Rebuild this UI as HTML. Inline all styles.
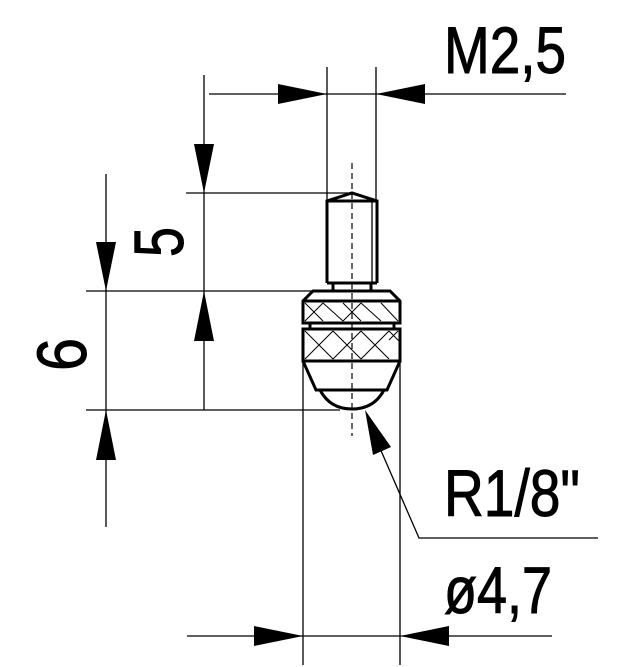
<!DOCTYPE html>
<html><head><style>html,body{margin:0;padding:0;background:#fff;}svg{display:block}</style></head>
<body>
<svg width="638" height="667" viewBox="0 0 638 667" xmlns="http://www.w3.org/2000/svg">
<g stroke="#000" stroke-width="1.3" fill="none">
<line x1="327" y1="67" x2="327" y2="200"/>
<line x1="376" y1="67" x2="376" y2="200"/>
<line x1="209" y1="94" x2="566" y2="94"/>
<line x1="204" y1="75" x2="204" y2="410"/>
<line x1="106" y1="174" x2="106" y2="527"/>
<line x1="186" y1="193" x2="352" y2="193"/>
<line x1="86" y1="291" x2="312" y2="291"/>
<line x1="86" y1="410" x2="340" y2="410"/>
<line x1="303" y1="330" x2="303" y2="665"/>
<line x1="400" y1="330" x2="400" y2="665"/>
<line x1="187" y1="636" x2="552" y2="636"/>
<polyline points="372,430 419,538 598,538"/>
</g>
<line x1="352" y1="163" x2="352" y2="436" stroke="#000" stroke-width="1.2" stroke-dasharray="6,4"/>
<g stroke="#000" stroke-width="3" fill="none" stroke-linejoin="miter">
<polyline points="327,283 327,201 352,193 377,201 377,283"/>
<line x1="327" y1="201" x2="377" y2="201"/>
<line x1="327" y1="283" x2="377" y2="283"/>
<line x1="333" y1="283" x2="333" y2="291"/>
<line x1="371" y1="283" x2="371" y2="291"/>
<polygon points="313,291 390,291 400,301 400,323 303,323 303,301"/>
<line x1="303" y1="301" x2="400" y2="301"/>
<line x1="310" y1="323" x2="310" y2="329"/>
<line x1="394" y1="323" x2="394" y2="329"/>
<rect x="303" y="329" width="97" height="32"/>
<polyline points="303,361 316,390 387,390 400,361"/>
<path d="M320,390 Q330,409 352,409 Q374,409 384,390"/>
</g>
<line x1="372" y1="201" x2="372" y2="283" stroke="#000" stroke-width="1.3"/>
<g stroke="#000" stroke-width="1">
<path d="M305,303 L323,321 M323,303 L305,321 M323,303 L343,321 M343,303 L361,321 M361,303 L343,321 M361,303 L381,321 M381,303 L398,321"/>
<path d="M305,331 L333,359 M333,331 L305,359 M333,331 L361,359 M361,331 L333,359 M361,331 L389,359 M389,331 L361,359 M389,331 L400,342 M398,331 L389,340"/>
</g>
<g fill="#000">
<polygon points="327,94 278,84 278,104"/>
<polygon points="376,94 425,84 425,104"/>
<polygon points="204,193 194,144 214,144"/>
<polygon points="204,291 194,341 214,341"/>
<polygon points="106,291 96,242 116,242"/>
<polygon points="106,410 96,460 116,460"/>
<polygon points="303,636 254,626 254,646"/>
<polygon points="400,636 449,626 449,646"/>
<polygon points="365,410 373,455 391,447"/>
</g>
<g font-family="Liberation Sans, sans-serif" font-size="66" fill="#000" stroke="#000" stroke-width="1">
<text x="444" y="73" textLength="122" lengthAdjust="spacingAndGlyphs">M2,5</text>
<text x="444" y="516" textLength="136" lengthAdjust="spacingAndGlyphs">R1/8"</text>
<text x="444" y="613" textLength="108" lengthAdjust="spacingAndGlyphs">ø4,7</text>
<text transform="translate(183,257) rotate(-90)" font-size="70" textLength="30" lengthAdjust="spacingAndGlyphs">5</text>
<text transform="translate(86,371) rotate(-90)" font-size="70" textLength="33" lengthAdjust="spacingAndGlyphs">6</text>
</g>
</svg>
</body></html>
